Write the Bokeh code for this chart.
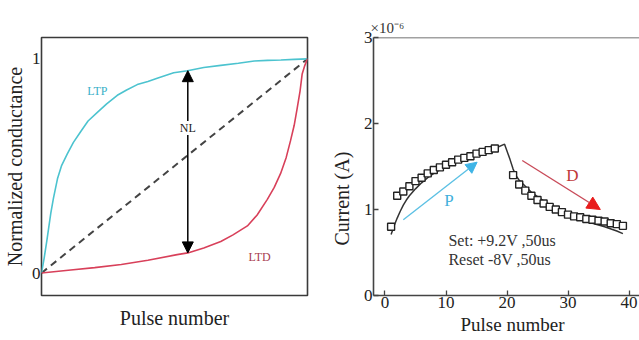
import numpy as np
from bokeh.plotting import figure
from bokeh.layouts import row
from bokeh.models import Label, Arrow, NormalHead, Span, FixedTicker, ColumnDataSource, Title
from bokeh.embed import file_html
from bokeh.resources import INLINE

# ---------------- data: left panel (normalized conductance) ----------------
ltp_x = [0.0, 0.005, 0.010, 0.02, 0.035, 0.045, 0.06, 0.075, 0.097, 0.12, 0.147, 0.175, 0.21, 0.245,
         0.285, 0.32, 0.36, 0.40, 0.435, 0.497, 0.549, 0.61, 0.674, 0.74, 0.80, 0.85, 0.90, 0.95, 1.0]
ltp_y = [0.0, 0.035, 0.07, 0.15, 0.28, 0.35, 0.44, 0.50, 0.556, 0.61, 0.66, 0.71, 0.75, 0.79,
         0.83, 0.855, 0.88, 0.895, 0.91, 0.935, 0.945, 0.96, 0.97, 0.98, 0.99, 0.993, 0.995, 0.998, 1.0]
ltd_x = [0.0, 0.11, 0.20, 0.30, 0.40, 0.51, 0.55, 0.61, 0.674, 0.72, 0.774, 0.81, 0.849, 0.875,
         0.899, 0.92, 0.936, 0.95, 0.961, 0.972, 0.98, 0.99, 1.0]
ltd_y = [0.0, 0.014, 0.025, 0.04, 0.06, 0.086, 0.094, 0.117, 0.147, 0.178, 0.22, 0.27, 0.344, 0.40,
         0.465, 0.54, 0.617, 0.69, 0.768, 0.85, 0.93, 0.97, 1.0]
lin_x = [0.0, 1.0]
lin_y = [0.0, 1.0]
nl_x = [0.55, 0.55]
nl_y = [0.094, 0.945]
left_ticks = [0, 1]

# ---------------- data: right panel (current vs pulse) ----------------
p_pulse = list(range(1, 19))
p_current = [0.80, 1.16, 1.21, 1.27, 1.33, 1.37, 1.42, 1.46, 1.49, 1.52, 1.55, 1.58, 1.60, 1.62, 1.65, 1.67, 1.69, 1.71]
d_pulse = list(range(21, 40))
d_current = [1.40, 1.29, 1.22, 1.16, 1.11, 1.07, 1.03, 1.00, 0.97, 0.94, 0.92, 0.91, 0.89, 0.88, 0.87, 0.86, 0.84, 0.83, 0.81]
fit_x = [1, 1.5, 2, 2.5, 3, 3.5, 4, 5, 6, 7, 8, 9, 10, 12, 14, 16, 18, 19.6,
         20.5, 21, 21.5, 22, 23, 24, 25, 26, 28, 30, 32, 34, 36, 38, 39]
fit_y = [0.71, 0.81, 0.90, 0.98, 1.05, 1.11, 1.16, 1.24, 1.31, 1.37, 1.42, 1.46, 1.50, 1.57, 1.62, 1.67, 1.71, 1.76,
         1.58, 1.47, 1.39, 1.34, 1.27, 1.20, 1.15, 1.10, 1.02, 0.95, 0.89, 0.84, 0.80, 0.75, 0.72]
p_arrow = [3.0, 0.88, 15.1, 1.55]
d_arrow = [22.5, 1.57, 35.3, 1.00]
x_ticks = [0, 10, 20, 30, 40]
y_ticks = [0, 1, 2, 3]

SERIF = "Liberation Serif"

# ================= left figure =================
p1 = figure(width=320, height=340, x_range=(0, 1), y_range=(-0.105, 1.1),
            output_backend="svg", toolbar_location=None, title=None,
            min_border_left=40, min_border_right=13, min_border_top=37, min_border_bottom=38)
p1.grid.visible = False
p1.outline_line_color = "#3a3a3a"
p1.outline_line_width = 1.6
p1.background_fill_color = "white"
p1.border_fill_color = "white"

xa = p1.xaxis[0]
xa.ticker = FixedTicker(ticks=[])
xa.axis_line_color = None
xa.major_tick_line_color = None
xa.minor_tick_line_color = None
xa.major_tick_out = 0
xa.minor_tick_out = 0
xa.major_label_standoff = 0
xa.axis_label = "Pulse number"
xa.axis_label_standoff = 11
xa.axis_label_text_font = SERIF
xa.axis_label_text_font_size = "20px"
xa.axis_label_text_font_style = "normal"
xa.axis_label_text_color = "#222"

ya = p1.yaxis[0]
ya.ticker = FixedTicker(ticks=left_ticks)
ya.axis_line_color = None
ya.major_tick_line_color = None
ya.minor_tick_line_color = None
ya.major_tick_out = 0
ya.major_tick_in = 0
ya.minor_tick_out = 0
ya.major_label_standoff = 1
ya.major_label_text_font = SERIF
ya.major_label_text_font_size = "17px"
ya.major_label_text_color = "#222"
ya.axis_label = "Normalized conductance"
ya.axis_label_standoff = 3
ya.axis_label_text_font = SERIF
ya.axis_label_text_font_size = "20px"
ya.axis_label_text_font_style = "normal"
ya.axis_label_text_color = "#222"

p1.line(lin_x, lin_y, line_color="#444444", line_width=2, line_dash="7 5")
p1.line(ltp_x, ltp_y, line_color="#4cc3cf", line_width=1.6)
p1.line(ltd_x, ltd_y, line_color="#d8405a", line_width=1.6)
p1.add_layout(Arrow(start=NormalHead(size=11, fill_color="black", line_color="black"),
                    end=NormalHead(size=11, fill_color="black", line_color="black"),
                    x_start=nl_x[0], y_start=nl_y[0], x_end=nl_x[1], y_end=nl_y[1],
                    line_color="black", line_width=1.5))
p1.add_layout(Label(x=0.55, y=0.677, text="NL", text_align="center", text_baseline="middle",
                    text_font=SERIF, text_font_size="12px", text_color="#222",
                    background_fill_color="white"))
p1.add_layout(Label(x=0.21, y=0.85, text="LTP", text_align="center", text_baseline="middle",
                    text_font=SERIF, text_font_size="12px", text_color="#3ab0c8"))
p1.add_layout(Label(x=0.82, y=0.077, text="LTD", text_align="center", text_baseline="middle",
                    text_font=SERIF, text_font_size="12px", text_color="#a84050"))

# ================= right figure =================
x0, x1 = -1.885, 41.72
p2 = figure(width=319, height=340, x_range=(x0, x1), y_range=(0, 3),
            output_backend="svg", toolbar_location=None, title=None,
            min_border_left=53, min_border_right=0, min_border_top=33, min_border_bottom=45)
p2.grid.visible = False
p2.outline_line_color = None
p2.background_fill_color = "white"
p2.border_fill_color = "white"
for ax, ticks in ((p2.xaxis[0], x_ticks), (p2.yaxis[0], y_ticks)):
    ax.ticker = FixedTicker(ticks=ticks)
    ax.axis_line_color = "#444"
    ax.axis_line_width = 1.6
    ax.major_tick_line_color = "#444"
    ax.major_tick_line_width = 1.3
    ax.minor_tick_line_color = None
    ax.major_tick_in = 5
    ax.major_tick_out = 0
    ax.minor_tick_out = 0
    ax.major_label_standoff = 1
    ax.major_label_text_font = SERIF
    ax.major_label_text_font_size = "17px"
    ax.major_label_text_color = "#222"
p2.add_layout(Span(location=3, dimension="width", line_color="#444", line_width=1.6))

src_p = ColumnDataSource(dict(x=p_pulse, y=p_current))
src_d = ColumnDataSource(dict(x=d_pulse, y=d_current))
p2.line(fit_x, fit_y, line_color="#333333", line_width=1.5)
p2.scatter("x", "y", source=src_p, marker="square", size=7, fill_color="white",
           line_color="#222", line_width=1.4)
p2.scatter("x", "y", source=src_d, marker="square", size=7, fill_color="white",
           line_color="#222", line_width=1.4)

p2.add_layout(Arrow(end=NormalHead(size=11, fill_color="#3fb4e6", line_color="#3fb4e6"),
                    x_start=p_arrow[0], y_start=p_arrow[1], x_end=p_arrow[2], y_end=p_arrow[3],
                    line_color="#5cc0e4", line_width=1.4))
p2.add_layout(Arrow(end=NormalHead(size=13, fill_color="#e81c1c", line_color="#e81c1c"),
                    x_start=d_arrow[0], y_start=d_arrow[1], x_end=d_arrow[2], y_end=d_arrow[3],
                    line_color="#c84a58", line_width=1.4))
p2.add_layout(Label(x=10.5, y=1.11, text="P", text_align="center", text_baseline="middle",
                    text_font=SERIF, text_font_size="17px", text_color="#3fb0dc"))
p2.add_layout(Label(x=30.7, y=1.39, text="D", text_align="center", text_baseline="middle",
                    text_font=SERIF, text_font_size="17px", text_color="#c03838"))
p2.add_layout(Label(x=10.4, y=0.64, text="Set: +9.2V ,50us", text_align="left", text_baseline="middle",
                    text_font=SERIF, text_font_size="16px", text_color="#333"))
p2.add_layout(Label(x=10.4, y=0.42, text="Reset -8V ,50us", text_align="left", text_baseline="middle",
                    text_font=SERIF, text_font_size="16px", text_color="#333"))

p2.add_layout(Title(text="Current (A)", align="left", offset=50, standoff=15,
                    text_font=SERIF, text_font_size="20px", text_font_style="normal",
                    text_color="#222"), "left")
p2.add_layout(Title(text="Pulse number", align="left", offset=87, standoff=3,
                    text_font=SERIF, text_font_size="19px", text_font_style="normal",
                    text_color="#222"), "below")
p2.add_layout(Title(text="×10⁻⁶", align="left", offset=-3, standoff=3,
                    text_font=SERIF, text_font_size="15px", text_font_style="normal",
                    text_color="#333"), "above")

layout = row(p1, p2)
open("out.html", "w").write(file_html(layout, INLINE))
